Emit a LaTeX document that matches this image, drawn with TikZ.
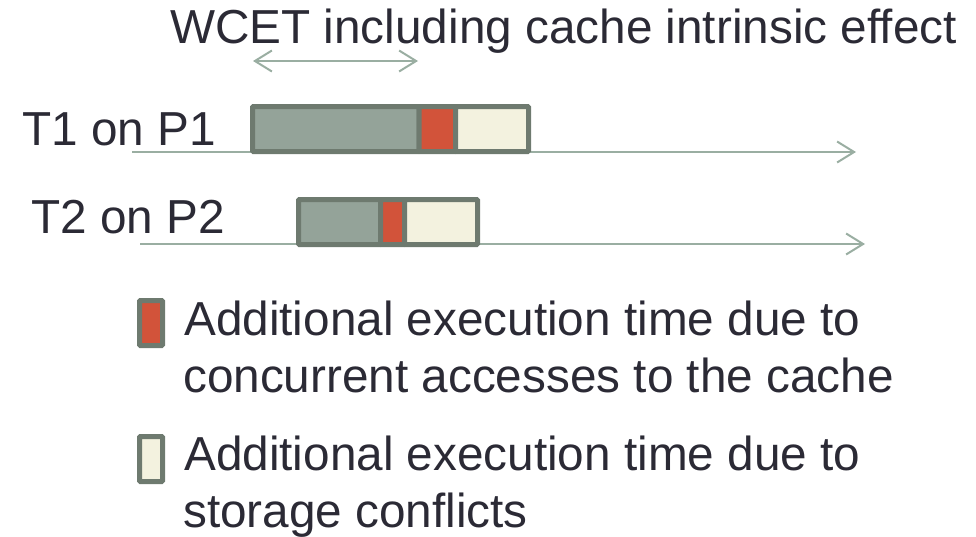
\documentclass[tikz,border=0pt]{standalone}
\usepackage{fontspec}
\setmainfont{Liberation Sans}
\usetikzlibrary{arrows.meta}
\definecolor{inkcol}{HTML}{2B2A35}
\definecolor{framecol}{HTML}{6E7A6F}
\definecolor{basecol}{HTML}{94A399}
\definecolor{concol}{HTML}{D2533A}
\definecolor{storecol}{HTML}{F3F2DF}
\definecolor{axiscol}{HTML}{9AAEA2}
\tikzset{
  label text/.style={anchor=base west, inner sep=0pt, text=inkcol,
    font=\fontsize{47.7}{57}\selectfont},
  segment/.style={draw=framecol, line width=5pt, inner sep=0pt, outer sep=0pt,
    minimum height=45pt, rounded corners=1pt},
  basepart/.style={segment, fill=basecol},
  conpart/.style={segment, fill=concol},
  storepart/.style={segment, fill=storecol},
  legendbox/.style={segment, minimum width=23pt, minimum height=45pt},
  timeline/.style={draw=axiscol, line width=2pt,
    -{Straight Barb[length=17pt,width=21pt]}},
  span/.style={draw=axiscol, line width=2pt,
    {Straight Barb[length=17pt,width=21pt]}-{Straight Barb[length=17pt,width=21pt]}}
}
\begin{document}
\begin{tikzpicture}[x=1pt,y=-1pt]
\useasboundingbox (0,0) rectangle (976,536);

% time axes of the two processors
\coordinate (ax1s) at (132,152);
\coordinate (ax1e) at (856,152);
\coordinate (ax2s) at (140,244);
\coordinate (ax2e) at (865,244);
\draw[timeline] (ax1s) -- (ax1e);
\draw[timeline] (ax2s) -- (ax2e);

% title and span of the intrinsic WCET
\node[label text] (title) at (170,43) {WCET including cache intrinsic effect};
\coordinate (spanl) at (253,61);
\coordinate (spanr) at (418,61);
\draw[span] (spanl) -- (spanr);

% task labels
\node[label text] (t1) at (22,145) {T1 on P1};
\node[label text] (t2) at (31,233) {T2 on P2};

% execution of T1 on P1
\node[basepart, minimum width=166.5pt] (b1) at (335.75,129) {};
\node[conpart, minimum width=36.5pt] (c1) at (437.25,129) {};
\node[storepart, minimum width=73pt] (s1) at (492,129) {};

% execution of T2 on P2
\node[basepart, minimum width=82pt] (b2) at (339.5,222) {};
\node[conpart, minimum width=24pt] (c2) at (392.5,222) {};
\node[storepart, minimum width=73pt] (s2) at (441,222) {};

% legend
\node[legendbox, fill=concol] (lgc) at (151,323) {};
\node[label text] (lgc1) at (184,335) {Additional execution time due to};
\node[label text] (lgc2) at (183,392) {concurrent accesses to the cache};
\node[legendbox, fill=storecol] (lgs) at (151,459) {};
\node[label text] (lgs1) at (184,470) {Additional execution time due to};
\node[label text] (lgs2) at (183,527) {storage conflicts};
\end{tikzpicture}
\end{document}
